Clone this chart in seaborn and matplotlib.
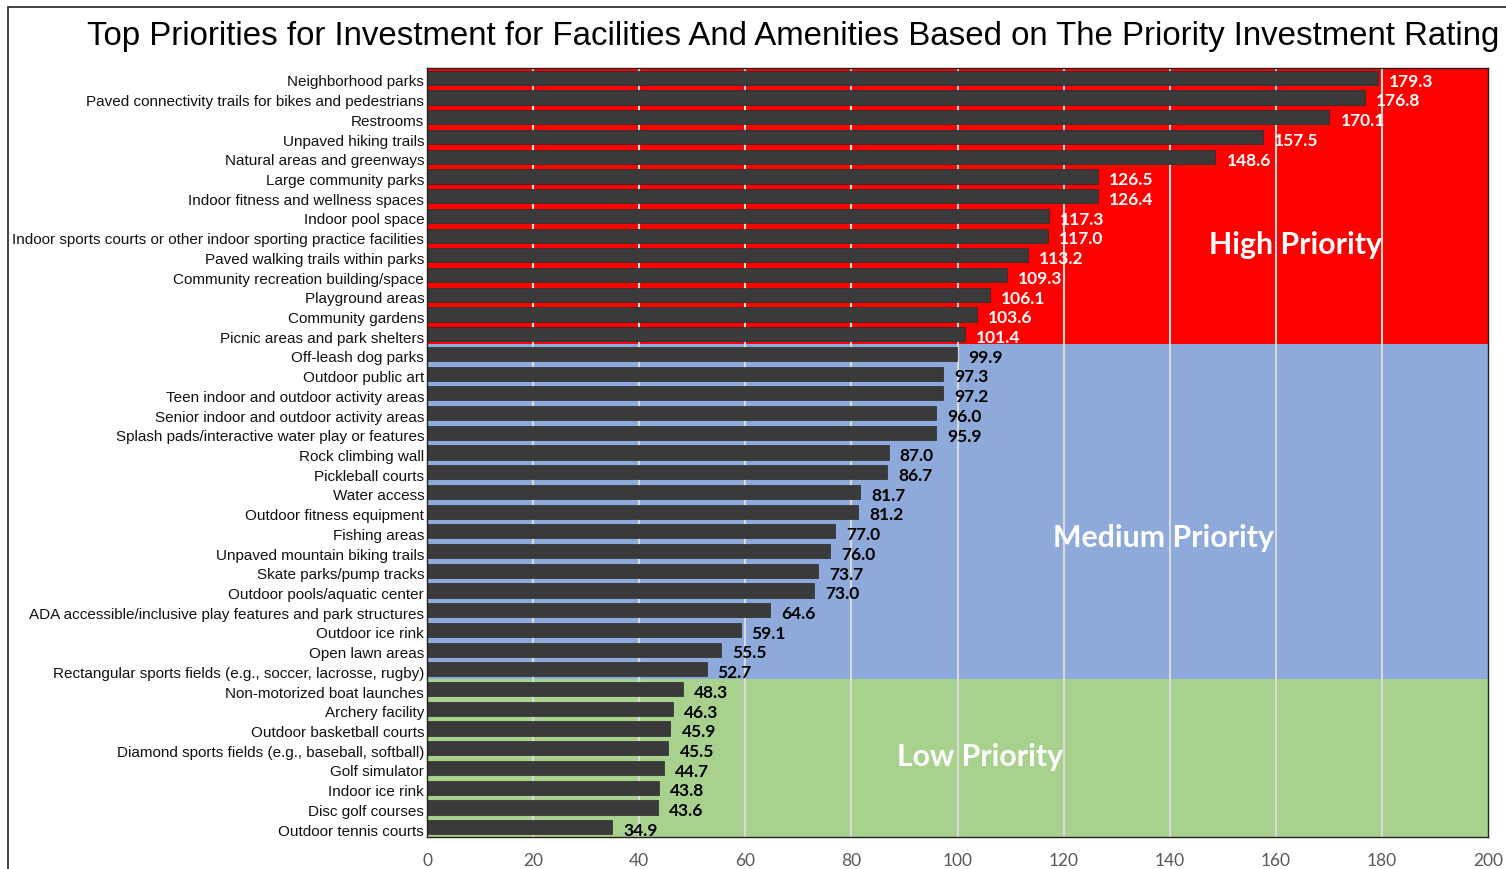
import matplotlib
matplotlib.use("Agg")
import matplotlib.pyplot as plt
from matplotlib.patches import Rectangle
from matplotlib.transforms import ScaledTranslation
import seaborn as sns
import pandas as pd

# facility names, top to bottom
facilities = [
    "Neighborhood parks",
    "Paved connectivity trails for bikes and pedestrians",
    "Restrooms",
    "Unpaved hiking trails",
    "Natural areas and greenways",
    "Large community parks",
    "Indoor fitness and wellness spaces",
    "Indoor pool space",
    "Indoor sports courts or other indoor sporting practice facilities",
    "Paved walking trails within parks",
    "Community recreation building/space",
    "Playground areas",
    "Community gardens",
    "Picnic areas and park shelters",
    "Off-leash dog parks",
    "Outdoor public art",
    "Teen indoor and outdoor activity areas",
    "Senior indoor and outdoor activity areas",
    "Splash pads/interactive water play or features",
    "Rock climbing wall",
    "Pickleball courts",
    "Water access",
    "Outdoor fitness equipment",
    "Fishing areas",
    "Unpaved mountain biking trails",
    "Skate parks/pump tracks",
    "Outdoor pools/aquatic center",
    "ADA accessible/inclusive play features and park structures",
    "Outdoor ice rink",
    "Open lawn areas",
    "Rectangular sports fields (e.g., soccer, lacrosse, rugby)",
    "Non-motorized boat launches",
    "Archery facility",
    "Outdoor basketball courts",
    "Diamond sports fields (e.g., baseball, softball)",
    "Golf simulator",
    "Indoor ice rink",
    "Disc golf courses",
    "Outdoor tennis courts",
]

ratings = [179.3, 176.8, 170.1, 157.5, 148.6, 126.5, 126.4, 117.3, 117.0, 113.2,
           109.3, 106.1, 103.6, 101.4, 99.9, 97.3, 97.2, 96.0, 95.9, 87.0,
           86.7, 81.7, 81.2, 77.0, 76.0, 73.7, 73.0, 64.6, 59.1, 55.5,
           52.7, 48.3, 46.3, 45.9, 45.5, 44.7, 43.8, 43.6, 34.9]

# number of items in each priority group (high, medium, low)
group_names = ["High Priority", "Medium Priority", "Low Priority"]
group_sizes = [14, 17, 8]
group_colors = ["#FF0000", "#8EAADB", "#A9D18E"]
group_text_colors = ["white", "black", "black"]
# where the group label sits (x value, row position)
group_label_x = [163.8, 138.9, 104.3]
group_label_row = [8.45, 23.3, 34.4]

df = pd.DataFrame({"facility": facilities, "rating": ratings})

sns.set_theme(style="white")
plt.rcParams["font.family"] = ["Liberation Sans", "DejaVu Sans"]

fig = plt.figure(figsize=(15.06, 8.70), dpi=100)
ax = fig.add_axes([427 / 1506, 1 - 838 / 870, (1488 - 427) / 1506, (838 - 69) / 870])

# background bands
start = -0.5
for size, col in zip(group_sizes, group_colors):
    ax.axhspan(start, start + size, color=col, zorder=0, lw=0)
    start += size

for xv in range(20, 200, 20):
    ax.axvline(xv, color="#D9D9D9", lw=1.5, zorder=1)

sns.barplot(data=df, x="rating", y="facility", orient="h", color="#3A3A3A",
            saturation=1, width=0.72, ax=ax, zorder=2, edgecolor="#2A2A2A", linewidth=0.5)

# value labels
idx = 0
for gi, size in enumerate(group_sizes):
    for _ in range(size):
        ax.annotate(f"{ratings[idx]:.1f}", (ratings[idx], idx), xytext=(8, -2),
                    textcoords="offset points", va="center", ha="left",
                    fontsize=12.5, fontweight="bold", family="Lato",
                    color=group_text_colors[gi], zorder=3)
        idx += 1

for name, lx, ly in zip(group_names, group_label_x, group_label_row):
    ax.text(lx, ly, name, ha="center", va="center", fontsize=21.8,
            fontweight="bold", family="Lato", color="white", zorder=3)

ax.set_xlim(0, 200)
ax.set_ylim(len(facilities) - 0.5, -0.5)
ax.set_xticks(range(0, 201, 20))
ax.set_xlabel("")
ax.set_ylabel("")
ax.tick_params(axis="y", length=0, pad=2, labelsize=11, labelcolor="#111111")
ax.tick_params(axis="x", length=0, pad=11, labelsize=12.5, labelcolor="#595959")
for lbl in ax.get_xticklabels():
    lbl.set_family("Lato")
# nudge the category labels down a little
shift = ScaledTranslation(0, -2 / 100, fig.dpi_scale_trans)
for lbl in ax.get_yticklabels():
    lbl.set_transform(lbl.get_transform() + shift)
for sp in ax.spines.values():
    sp.set_visible(True)
    sp.set_color("#222222")
    sp.set_linewidth(1)

fig.text(87 / 1506, 1 - 37 / 870,
         "Top Priorities for Investment for Facilities And Amenities Based on The Priority Investment Rating",
         ha="left", va="center", fontsize=23.8, color="black")

# outer frame of the chart image
fig.patches.append(Rectangle((8 / 1506, -0.2), 1.2, 1 - 8 / 870 + 0.2,
                             transform=fig.transFigure, fill=False,
                             edgecolor="#222222", lw=1.2))

fig.savefig("out.png", dpi=100)
